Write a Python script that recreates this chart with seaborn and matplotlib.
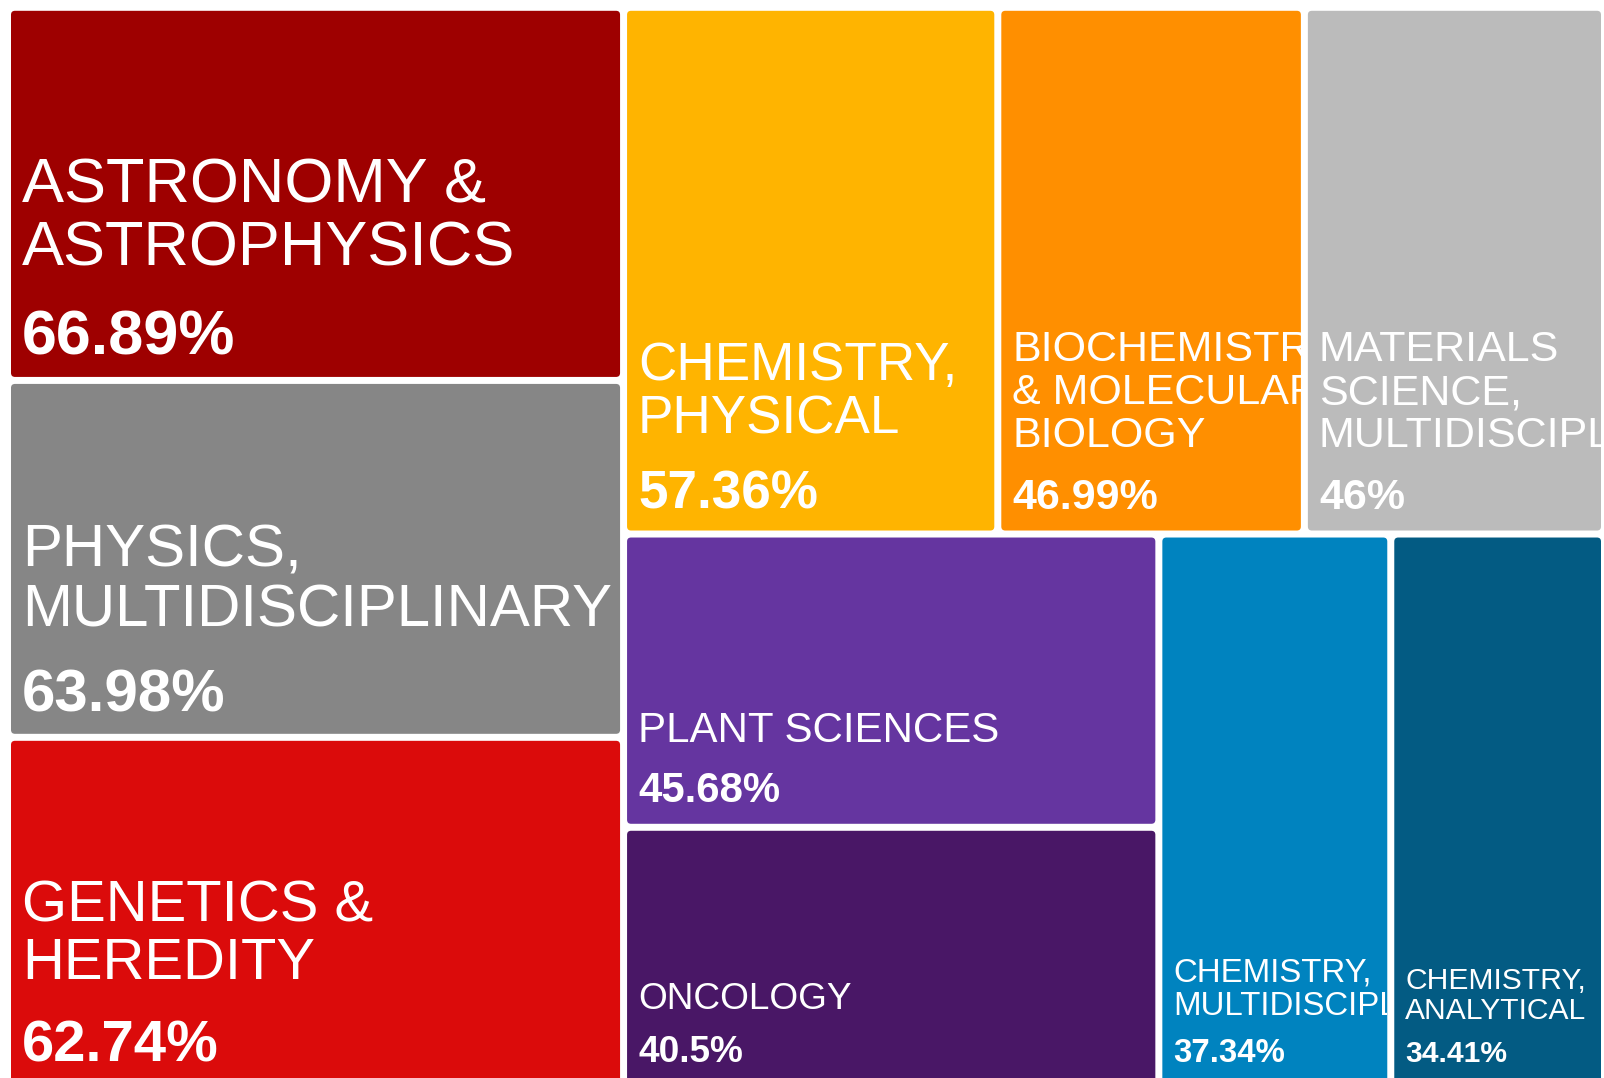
import numpy as np
import seaborn as sns
import matplotlib.pyplot as plt
from matplotlib.patches import FancyBboxPatch
from matplotlib.transforms import Bbox, TransformedBbox

# data
categories = [
    'ASTRONOMY & ASTROPHYSICS',
    'PHYSICS, MULTIDISCIPLINARY',
    'GENETICS & HEREDITY',
    'CHEMISTRY, PHYSICAL',
    'BIOCHEMISTRY & MOLECULAR BIOLOGY',
    'MATERIALS SCIENCE, MULTIDISCIPLINARY',
    'PLANT SCIENCES',
    'ONCOLOGY',
    'CHEMISTRY, MULTIDISCIPLINARY',
    'CHEMISTRY, ANALYTICAL',
]
# lines as they are wrapped in the tiles
display_labels = [
    'ASTRONOMY &\nASTROPHYSICS',
    'PHYSICS,\nMULTIDISCIPLINARY',
    'GENETICS &\nHEREDITY',
    'CHEMISTRY,\nPHYSICAL',
    'BIOCHEMISTRY\n& MOLECULAR\nBIOLOGY',
    'MATERIALS\nSCIENCE,\nMULTIDISCIPLINARY',
    'PLANT SCIENCES',
    'ONCOLOGY',
    'CHEMISTRY,\nMULTIDISCIPLINARY',
    'CHEMISTRY,\nANALYTICAL',
]
percentages = [66.89, 63.98, 62.74, 57.36, 46.99, 46, 45.68, 40.5, 37.34, 34.41]

# style
tile_colors = ['#9e0000', '#868686', '#db0b0b', '#ffb400', '#ff8f00',
               '#bbbbbb', '#6535a0', '#491766', '#0083bf', '#035b83']
font_px = [63, 60, 58, 53, 43, 43, 42, 37, 33, 30]
strip_counts = [3, 3, 2, 2]


def strip_layout(values, counts, x, y, w, h):
    rects = []
    i = 0
    remaining = float(sum(values))
    for n in counts:
        group = values[i:i + n]
        s = float(sum(group))
        frac = s / remaining
        if w >= h:
            cw = w * frac
            yy = y
            for v in group:
                hh = h * v / s
                rects.append((x, yy, cw, hh))
                yy += hh
            x += cw
            w -= cw
        else:
            rh = h * frac
            xx = x
            for v in group:
                ww = w * v / s
                rects.append((xx, y, ww, rh))
                xx += ww
            y += rh
            h -= rh
        remaining -= s
        i += n
    return rects


sns.set_theme(style='white')
plt.rcParams['font.family'] = ['Liberation Sans', 'DejaVu Sans']

W_PX, H_PX = 1604, 1078
fig = plt.figure(figsize=(W_PX / 100, H_PX / 100), dpi=100)
ax = fig.add_axes([0, 0, 1, 1])
ax.set_xlim(0, W_PX)
ax.set_ylim(H_PX, 0)
ax.axis('off')

gap = 3.5
rects = strip_layout(percentages, strip_counts, 7.5, 7.3, 1597, 1080)

for (x, y, w, h), lab, pct, col, fpx in zip(rects, display_labels, percentages, tile_colors, font_px):
    tile = FancyBboxPatch((x + gap, y + gap), w - 2 * gap, h - 2 * gap,
                          boxstyle='round,pad=0,rounding_size=4',
                          facecolor=col, edgecolor='none')
    ax.add_patch(tile)
    clip = TransformedBbox(Bbox.from_extents(x + gap, y + gap, x + w - gap, y + h - gap),
                           ax.transData)

    fs = fpx * 0.72
    left = x + gap + 11
    pct_base = y + h - gap - 22
    t = ax.text(left, pct_base, f'{pct:g}%', color='white', fontsize=fs,
                fontweight='bold', ha='left', va='baseline')
    t.set_clip_box(clip)
    t.set_clip_on(True)
    lines = lab.split('\n')
    base = pct_base - 1.42 * fpx
    for k, line in enumerate(reversed(lines)):
        t = ax.text(left, base - k * 1.0 * fpx, line, color='white',
                    fontsize=fs, ha='left', va='baseline')
        t.set_clip_box(clip)
        t.set_clip_on(True)

plt.savefig('out.png', dpi=100, facecolor='white')
